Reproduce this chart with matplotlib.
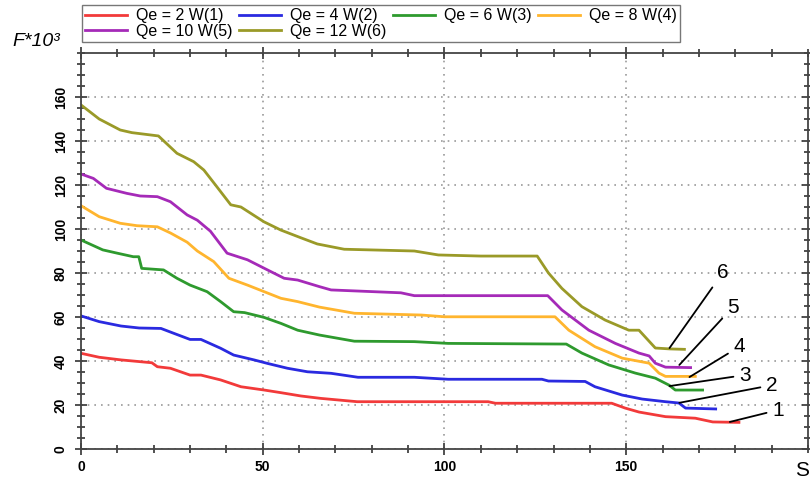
import matplotlib.pyplot as plt
from matplotlib.ticker import MultipleLocator

# curve data (S on x, F*10^3 on y)
red_x = [0, 5, 11, 19.5, 21, 24.6, 30, 33, 38.4, 44, 50.4, 55, 60.5, 66, 76, 112, 114, 146, 149.7, 153.5, 160.8, 169, 173.8, 181]
red_y = [43.5, 41.7, 40.5, 39.2, 37.4, 36.7, 33.6, 33.6, 31.4, 28.3, 26.8, 25.6, 24.1, 23, 21.5, 21.5, 20.8, 20.8, 18.6, 16.8, 14.7, 14, 12.3, 12.1]

blue_x = [0, 5, 11, 16, 22, 25.5, 30, 33, 38.4, 42, 47.6, 51.3, 56.8, 62.3, 68.8, 76.2, 91.7, 101, 126.8, 128.6, 138.7, 141.4, 148.9, 154.4, 160.8, 164.5, 166.3, 174.6]
blue_y = [60.5, 57.9, 55.9, 55, 54.8, 52.6, 49.8, 49.8, 45.8, 42.7, 40.5, 38.9, 36.7, 35.1, 34.4, 32.6, 32.6, 31.7, 31.7, 30.9, 30.7, 28.3, 24.5, 22.7, 21.5, 20.9, 18.6, 18.2]

green_x = [0, 6, 10, 14.4, 15.9, 16.7, 22.7, 26.4, 30, 34.7, 38.4, 42, 45, 50.4, 55, 59.6, 65.6, 75.2, 91.7, 101, 133.5, 137.8, 145.2, 152.5, 158, 161.8, 163.5, 171]
green_y = [95, 90.5, 89, 87.4, 87.4, 82.1, 81.4, 77.6, 74.5, 71.5, 67, 62.4, 62, 59.8, 57.1, 54, 51.8, 49, 48.8, 48, 47.7, 43.6, 38.2, 34.5, 32.2, 29, 26.8, 26.8]

orange_x = [0, 5, 10.8, 15.4, 21, 24.6, 29.2, 32, 36.5, 40.7, 45.8, 50.4, 55, 59.6, 65.6, 75.2, 93.6, 100, 130.4, 134.2, 141.4, 148.9, 156.3, 159, 160.8, 169]
orange_y = [110.6, 105.6, 102.6, 101.5, 101, 98.2, 94, 90, 85.2, 77.6, 74.5, 71.5, 68.5, 67, 64.5, 61.7, 60.9, 60.1, 60.1, 54, 46.5, 41.3, 39, 34.5, 33, 33]

purple_x = [0, 3.4, 7, 12.6, 16.3, 21, 24.6, 29.2, 32, 35.6, 40.2, 45.8, 51.3, 55.9, 59.6, 65.6, 68.8, 88, 91.7, 128.4, 132.3, 139.7, 147, 153.5, 156.3, 158, 160.8, 167.7]
purple_y = [125, 123, 118.5, 116.2, 115, 114.7, 112.4, 106.4, 104, 99, 89, 86, 81.4, 77.6, 76.8, 73.8, 72.3, 71, 69.7, 69.7, 63.2, 54, 48, 43.6, 42.3, 39, 37.2, 37]

olive_x = [0, 5, 10.8, 14, 21.3, 26.4, 31, 33.8, 37, 41.2, 44, 50.3, 55, 60.5, 65, 72.4, 91.7, 98.3, 110, 125.5, 128.6, 132.3, 137.8, 144.2, 150.7, 153.5, 158, 161.9, 166]
olive_y = [156.4, 150, 145, 143.8, 142.3, 134.4, 130.6, 126.8, 120, 111, 110, 103.3, 99.5, 96, 93.2, 90.8, 90, 88.2, 87.7, 87.7, 80, 73, 64.7, 58.6, 54, 54, 45.9, 45.5, 45.3]

labels = ['Qe = 2 W(1)', 'Qe = 4 W(2)', 'Qe = 6 W(3)', 'Qe = 8 W(4)', 'Qe = 10 W(5)', 'Qe = 12 W(6)']
colors = ['#f23a3a', '#2a2ae0', '#2e9a2e', '#ffb52e', '#a52ab8', '#9a9a28']

# curve number callouts: text position and the point the leader line touches
callout_text = ['1', '2', '3', '4', '5', '6']
callout_xy = [(191.7, 17.7), (190, 29), (182.6, 33.6), (181, 46.4), (179.3, 64.5), (176.5, 80)]
callout_tip = [(178.5, 12.3), (164.6, 21), (161.9, 28.6), (167.4, 32.7), (164.6, 38.2), (161.9, 45.9)]

series = [(red_x, red_y), (blue_x, blue_y), (green_x, green_y),
          (orange_x, orange_y), (purple_x, purple_y), (olive_x, olive_y)]

plt.rcParams['font.family'] = ['Liberation Sans', 'DejaVu Sans']

fig = plt.figure(figsize=(8.1, 4.83), dpi=100)
ax = fig.add_axes([81 / 810, 1 - 449 / 483, (808 - 81) / 810, (449 - 53) / 483])

handles = []
for (x, y), lab, col in zip(series, labels, colors):
    h, = ax.plot(x, y, color=col, linewidth=2, label=lab)
    handles.append(h)

for t, xy, tip in zip(callout_text, callout_xy, callout_tip):
    ax.annotate(t, xy=tip, xytext=xy, fontsize=15, ha='center', va='center',
                arrowprops=dict(arrowstyle='-', color='black', lw=1.3, shrinkA=2, shrinkB=0))

ax.set_xlim(0, 200)
ax.set_ylim(0, 180)
ax.xaxis.set_minor_locator(MultipleLocator(10))
ax.yaxis.set_minor_locator(MultipleLocator(5))
ax.set_xticks([0, 50, 100, 150])
ax.set_yticks(range(0, 180, 20))

ax.grid(True, which='major', color='#9a9a9a', linestyle=(0, (1, 3)), linewidth=1.2)
ax.tick_params(which='both', direction='inout', top=True, right=True, color='#333333', width=1.2)
ax.tick_params(which='major', length=9)
ax.tick_params(which='minor', length=6)
ax.tick_params(axis='y', labelrotation=90, pad=5)
for lab in ax.get_yticklabels():
    lab.set_fontweight('bold')
    lab.set_fontsize(10)
    lab.set_va('center')
for lab in ax.get_xticklabels():
    lab.set_fontweight('bold')
    lab.set_fontsize(10)
for sp in ax.spines.values():
    sp.set_color('#444444')
    sp.set_linewidth(1.3)

# legend laid out row by row like the original
order = [0, 4, 1, 5, 2, 3]
fig.legend([handles[i] for i in order], [labels[i] for i in order],
           loc='upper left', bbox_to_anchor=(82 / 810, 1 - 5 / 483), ncol=4,
           fontsize=11.5, frameon=True, fancybox=False, edgecolor='#555555',
           handlelength=2.6, handletextpad=0.6, columnspacing=0.4,
           borderpad=0.2, labelspacing=0.05, borderaxespad=0)

fig.text(12 / 810, 1 - 42 / 483, 'F*10³', fontsize=14, style='italic', va='center')
fig.text(795 / 810, 1 - 470 / 483, 'S', fontsize=15, va='center')

fig.savefig('out.png', dpi=100)
